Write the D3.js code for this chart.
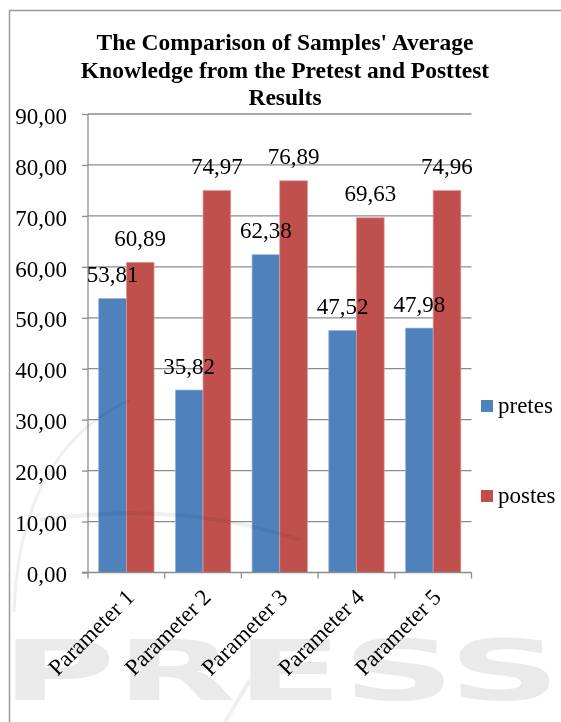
<!DOCTYPE html>
<html>
<head>
<meta charset="utf-8">
<script src="https://cdn.jsdelivr.net/npm/d3@7"></script>
<style>
  html, body { margin: 0; padding: 0; background: #fff; }
  svg { display: block; }
</style>
</head>
<body>
<svg id="chart" width="561" height="722"></svg>
<script>
// Average knowledge scores per parameter, pretest vs posttest
const categories = ["Parameter 1", "Parameter 2", "Parameter 3", "Parameter 4", "Parameter 5"];
const pretes = [53.81, 35.82, 62.38, 47.52, 47.98];
const postes = [60.89, 74.97, 76.89, 69.63, 74.96];
const seriesNames = ["pretes", "postes"];
const seriesColors = ["#4F81BD", "#C0504D"];
const yTicks = [0, 10, 20, 30, 40, 50, 60, 70, 80, 90];
const titleLines = ["The Comparison of Samples' Average", "Knowledge from the Pretest and Posttest", "Results"];

const fmt = v => v.toFixed(2).replace(".", ",");

// pick the first installed Times-like face by measuring against fallbacks
function pickSerif(cands) {
  const c = document.createElement("canvas").getContext("2d");
  const probe = "mmmmmmmmmmlli Wwy 0123456789";
  const widthOf = f => { c.font = "40px " + f; return c.measureText(probe).width; };
  const bases = ["monospace", "sans-serif"];
  for (const name of cands) {
    const differs = bases.every(b => widthOf(`"${name}", ${b}`) !== widthOf(b));
    if (differs) return `"${name}"`;
  }
  return "serif";
}
const serif = pickSerif(["Liberation Serif", "Times New Roman", "Tinos", "Nimbus Roman", "Nimbus Roman No9 L", "FreeSerif", "Noto Serif", "DejaVu Serif"]);
const FONT = `${serif}, serif`;

const svg = d3.select("#chart");

// outer chart frame (runs off the right and bottom edges)
svg.append("rect")
  .attr("x", 9.5).attr("y", 10.5)
  .attr("width", 600).attr("height", 760)
  .attr("fill", "#fff")
  .attr("stroke", "#9a9a9a").attr("stroke-width", 1.5);

const plot = { left: 88, right: 471.5, top: 114, bottom: 572.5 };

const y = d3.scaleLinear().domain([0, 90]).range([plot.bottom, plot.top]);
const x0 = d3.scaleBand().domain(categories).range([plot.left, plot.right]).paddingInner(0).paddingOuter(0);
const x1 = d3.scaleBand().domain(seriesNames).range([0, x0.bandwidth()]).paddingInner(0).paddingOuter(0.385);

// title
const title = svg.append("g");
titleLines.forEach((t, i) => {
  title.append("text")
    .attr("x", 285).attr("y", 50 + i * 27.5)
    .attr("text-anchor", "middle")
    .style("font-family", FONT)
    .style("font-size", "23.5px").style("font-weight", "bold")
    .text(t);
});

// horizontal gridlines
svg.append("g")
  .selectAll("line")
  .data(yTicks.slice(1))
  .join("line")
  .attr("x1", plot.left).attr("x2", plot.right)
  .attr("y1", d => y(d)).attr("y2", d => y(d))
  .attr("stroke", "#8c8c8c").attr("stroke-width", 1.3);

// y axis
const yAxis = svg.append("g")
  .attr("transform", `translate(${plot.left},0)`)
  .call(d3.axisLeft(y).tickValues(yTicks).tickFormat(fmt).tickSize(6).tickPadding(15));
yAxis.select(".domain").attr("stroke", "#8c8c8c").attr("stroke-width", 1.3).attr("d", `M0,${plot.top}V${plot.bottom}`);
yAxis.selectAll(".tick line").attr("stroke", "#8c8c8c").attr("stroke-width", 1.3);
yAxis.selectAll(".tick text")
  .attr("dy", "0.40em")
  .style("font-size", "23px")
  .style("font-family", FONT)
  .attr("fill", "#000");

// bars
const groups = svg.append("g")
  .selectAll("g")
  .data(categories.map((c, i) => ({ c, vals: [pretes[i], postes[i]] })))
  .join("g")
  .attr("transform", d => `translate(${x0(d.c)},0)`);

groups.selectAll("rect")
  .data(d => d.vals.map((v, j) => ({ s: seriesNames[j], v, j })))
  .join("rect")
  .attr("x", d => x1(d.s))
  .attr("width", x1.bandwidth())
  .attr("y", d => y(d.v))
  .attr("height", d => y(0) - y(d.v))
  .attr("fill", d => seriesColors[d.j])
  .attr("stroke", d => d.j === 0 ? "#9db8dc" : "#dc9a98")
  .attr("stroke-width", 0.7);

// x axis
const xAxis = svg.append("g")
  .attr("transform", `translate(0,${plot.bottom})`);
xAxis.append("line")
  .attr("x1", plot.left - 6).attr("x2", plot.right)
  .attr("stroke", "#8c8c8c").attr("stroke-width", 1.3);
const bounds = categories.map(c => x0(c)).concat([plot.right]);
xAxis.selectAll("line.tk")
  .data(bounds)
  .join("line").attr("class", "tk")
  .attr("x1", d => d).attr("x2", d => d)
  .attr("y1", 0).attr("y2", 6)
  .attr("stroke", "#8c8c8c").attr("stroke-width", 1.3);
xAxis.selectAll("text")
  .data(categories)
  .join("text")
  .attr("transform", d => `translate(${x0(d) + x0.bandwidth() / 2 - 3},${14}) rotate(-45)`)
  .attr("text-anchor", "end")
  .attr("dy", "0.75em")
  .style("font-family", FONT)
  .style("font-size", "23px")
  .text(d => d);

// value labels above bars
groups.selectAll("text.val")
  .data(d => d.vals.map((v, j) => ({ s: seriesNames[j], v, j })))
  .join("text").attr("class", "val")
  .attr("x", d => x1(d.s) + x1.bandwidth() / 2)
  .attr("y", d => y(d.v) - 16.5)
  .attr("text-anchor", "middle")
  .style("font-family", FONT)
  .style("font-size", "23px")
  .text(d => fmt(d.v));

// legend
const legend = svg.append("g");
seriesNames.forEach((s, i) => {
  const ly = 413 + i * 90;
  legend.append("rect")
    .attr("x", 481).attr("y", ly - 13).attr("width", 12).attr("height", 12)
    .attr("fill", seriesColors[i]);
  legend.append("text")
    .attr("x", 498).attr("y", ly)
    .style("font-family", FONT)
    .style("font-size", "23px")
    .text(s);
});

// faint publisher watermark laid over the page
const wm = svg.append("g").attr("opacity", 0.16).style("mix-blend-mode", "multiply");
wm.append("text")
  .attr("x", 281).attr("y", 700)
  .attr("text-anchor", "middle")
  .style("font-family", "'DejaVu Sans', sans-serif")
  .style("font-weight", "bold")
  .style("font-size", "84px")
  .attr("textLength", 560)
  .attr("lengthAdjust", "spacingAndGlyphs")
  .attr("fill", "#777")
  .text("PRESS");
wm.append("path")
  .attr("d", "M14,612 Q20,450 130,400")
  .attr("fill", "none").attr("stroke", "#999").attr("stroke-width", 3);
wm.append("path")
  .attr("d", "M40,520 Q180,500 300,540")
  .attr("fill", "none").attr("stroke", "#999").attr("stroke-width", 4);
wm.append("path")
  .attr("d", "M225,722 L250,680")
  .attr("fill", "none").attr("stroke", "#999").attr("stroke-width", 4);
</script>
</body>
</html>
